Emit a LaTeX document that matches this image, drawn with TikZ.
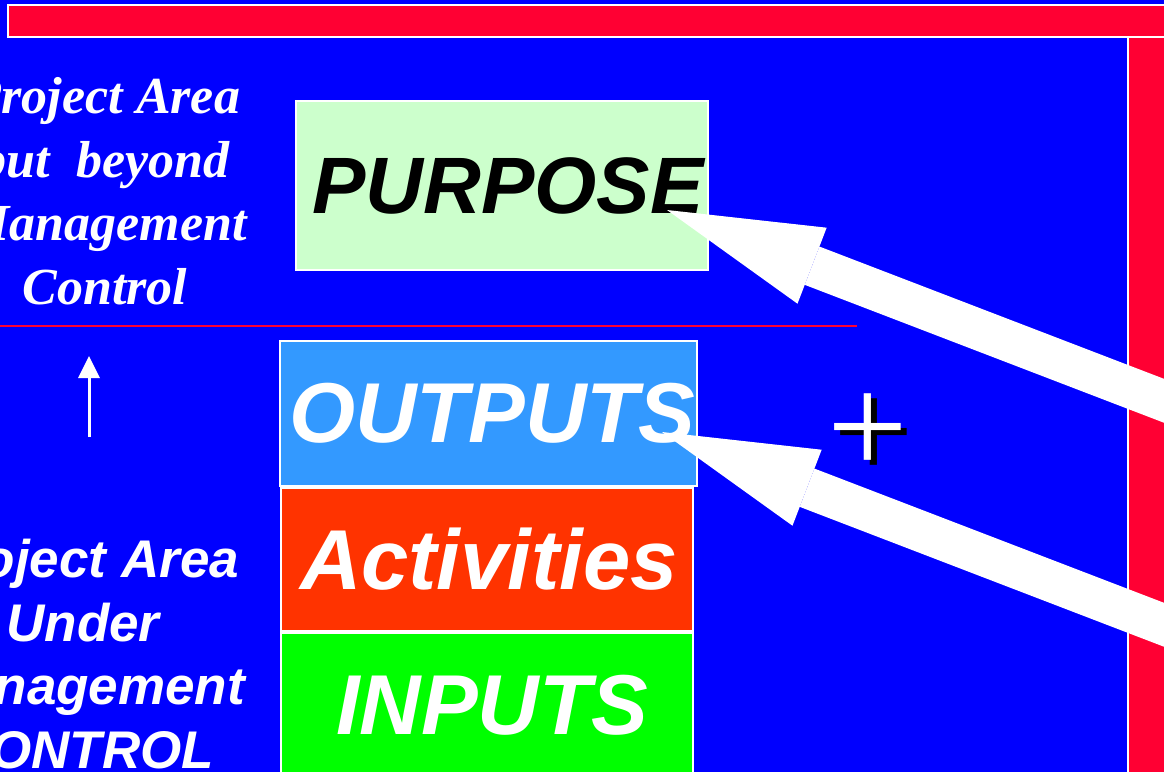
\documentclass[tikz,border=0pt]{standalone}
\usepackage{fontspec}
\newfontfamily\arialfont{Liberation Sans}
\newfontfamily\timesfont{Liberation Serif}
\usetikzlibrary{positioning,arrows.meta}
\definecolor{slideblue}{RGB}{0,0,255}
\definecolor{framered}{RGB}{255,0,51}
\definecolor{purposegreen}{RGB}{204,255,204}
\definecolor{outputblue}{RGB}{51,153,255}
\definecolor{activityred}{RGB}{255,51,0}
\definecolor{inputgreen}{RGB}{0,255,0}

\begin{document}
\begin{tikzpicture}[x=0.5pt,y=-0.5pt]
  \tikzstyle{stage}=[draw=white,line width=1pt,inner sep=0pt,text=white,font=\arialfont\bfseries\itshape\fontsize{42.5}{50}\selectfont]
  \tikzstyle{bigarrow}=[white,line width=20.5pt,-{Triangle[length=77.7pt,width=40.7pt,line width=0pt]}]

  \useasboundingbox (0,0) rectangle (1164,772);
  \clip (0,0) rectangle (1164,772);
  \fill[slideblue] (0,0) rectangle (1164,772);

  % red frame
  \draw[white,line width=1pt,fill=framered] (8,5) rectangle (1180,37);
  \draw[white,line width=1pt,fill=framered] (1128,37) rectangle (1180,790);
  \draw[framered,line width=1pt] (0,326) -- (857,326);

  \node[stage,fill=purposegreen,text=black,minimum width=206pt,minimum height=84.5pt,font=\arialfont\bfseries\itshape\fontsize{40}{50}\selectfont] (purpose) at (502,185.5) {\hspace*{6pt}PURPOSE};

  \node[stage,fill=outputblue,minimum width=208.5pt,minimum height=72.5pt] (outputs) at (488.5,413.5) {\hspace*{4pt}OUTPUTS};
  \node[stage,fill=activityred,minimum width=206pt,minimum height=71.5pt,below=0pt of outputs,xshift=-0.75pt] (activities) {\hspace*{2pt}Activities};
  \node[stage,fill=inputgreen,minimum width=206pt,minimum height=72.5pt,below=0pt of activities] (inputs) {\hspace*{5pt}INPUTS};

  \node[align=center,text=white,anchor=base,font=\timesfont\bfseries\itshape\fontsize{26}{31.75}\selectfont] (beyond) at (105,304) {Project Area\\but\ \ beyond\\Management\\Control};
  \node[align=center,text=white,anchor=base,font=\arialfont\bfseries\itshape\fontsize{26.5}{31.75}\selectfont] (under) at (83,768) {Project Area\\Under\\Management\\CONTROL};

  % arrows
  \coordinate (upfoot) at (89,437);
  \coordinate (uptip) at (89,356);
  \draw[white,line width=1.5pt,-{Triangle[length=11pt,width=11pt,line width=0pt]}] (upfoot) -- (uptip);

  \coordinate (purposetip) at (667,210);
  \coordinate (purposetail) at (1300,453);
  \coordinate (outputstip) at (662,432);
  \coordinate (outputstail) at (1300,677);
  \draw[bigarrow] (purposetail) -- (purposetip);
  \draw[bigarrow] (outputstail) -- (outputstip);

  \node[text=black,anchor=base,inner sep=0pt,font=\timesfont\fontsize{71.5}{80}\selectfont] (plusshadow) at (874,479) {+};
  \node[text=white,anchor=base,inner sep=0pt,font=\timesfont\fontsize{71.5}{80}\selectfont] (plus) at (868,474) {+};
\end{tikzpicture}
\end{document}
